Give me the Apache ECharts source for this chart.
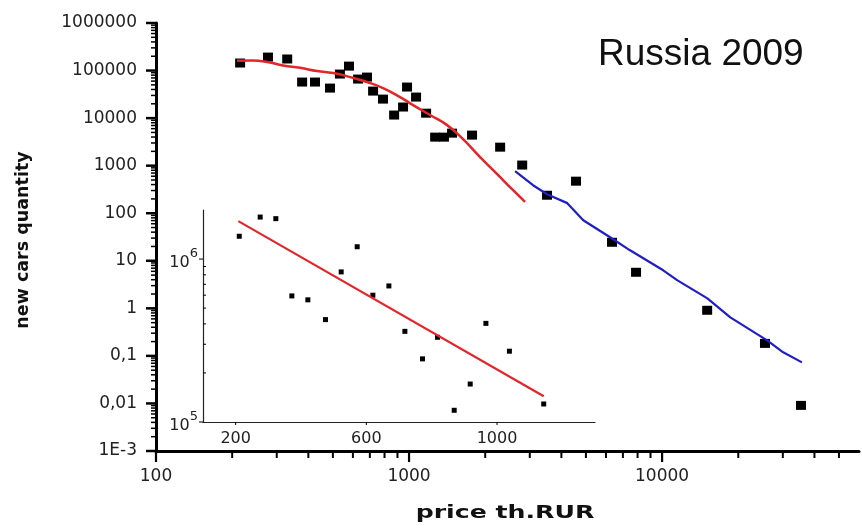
<!DOCTYPE html>
<html><head><meta charset="utf-8">
<script src="https://cdn.jsdelivr.net/npm/echarts@6/dist/echarts.min.js"></script>
<style>html,body{margin:0;padding:0;background:#fff}#c{width:862px;height:528px}</style>
</head><body><div id="c"></div>
<script>
// ---- main scatter (price th.RUR vs new cars quantity) ----
const mainPrice = [215,277,330,378,425,487,533,579,629,682,721,789,873,947,982,1066,1168,1268,1374,1479,1774,2291,2800,3510,4570,6340,7890,15070,25500,35400];
const mainQty   = [144000,192000,175000,57300,57300,42800,84400,124000,66200,72900,37000,25100,11600,17100,45000,27700,12700,3980,3980,4830,4390,2450,1030,239,472,24.5,5.73,0.91,0.183,0.0091];
// ---- red fit curve (main) ----
const redFitPrice = [209,240,275,318,371,433,501,585,682,789,921,1037,1211,1413,1634,1908,2229,2577,2873];
const redFitQty   = [160000,163000,152000,128000,114000,97600,88500,72900,57300,42800,27700,18800,11600,7120,3610,1510,662,305,173];
// ---- blue fit curve (main) ----
const blueFitPrice = [2624,3090,3510,4220,4880,6230,7470,10100,11500,15100,18600,26000,30100,35700];
const blueFitQty   = [766,388,251,163,71.3,31.3,16.6,6.31,3.88,1.62,0.647,0.212,0.119,0.073];
// ---- inset ----
const insetPrice = [211,275,323,372,421,475,523,572,620,669,718,772,818,869,918,966,1038,1143];
const insetQty   = [1380000,1810000,1770000,594000,562000,425000,834000,1190000,600000,684000,360000,244000,331000,118000,171000,403000,272000,129000];
const insetFitPrice = [208,1143];
const insetFitQty   = [1710000,144000];
// ---- ticks / labels ----
const xTickValues = [100,1000,10000];
const xTickLabels = ['100','1000','10000'];
const yTickValues = [0.001,0.01,0.1,1,10,100,1000,10000,100000,1000000];
const yTickLabels = ['1E-3','0,01','0,1','1','10','100','1000','10000','100000','1000000'];
const minorMult = [2,3,4,5,6,7,8,9];
const xMinorDecades = [100,1000];
const xMinorExtra = [20000,30000,40000,50000];
const yMinorDecades = [0.001,0.01,0.1,1,10,100,1000,10000,100000];
const insetXTickValues = [200,600,1000];
const insetXTickLabels = ['200','600','1000'];
const insetYTickValues = [100000,1000000];
const insetYExp = ['5','6'];
const insetYMinor = [200000,300000,400000,500000,600000,700000,800000,900000];

const xMinorTicks = [];
xMinorDecades.forEach(d => minorMult.forEach(m => xMinorTicks.push(d*m)));
xMinorExtra.forEach(v => xMinorTicks.push(v));
const yMinorTicks = [];
yMinorDecades.forEach(d => minorMult.forEach(m => yMinorTicks.push(+(d*m).toPrecision(3))));

const X_MIN = 100, X_MAX = 60000, Y_MIN = 0.001, Y_MAX = 1000000;
const IX_MIN = 100, IY_MIN = 100000;

function pick(vals, labels, v){
  let best = 0, bd = Infinity;
  vals.forEach((t,i)=>{ const d = Math.abs(Math.log10(t) - Math.log10(v)); if (d < bd){bd=d;best=i;} });
  return bd < 0.01 ? labels[best] : '';
}

function tickSeries(xi, yi, data, dx, dy, len, lw){
  return {
    type:'custom', xAxisIndex:xi, yAxisIndex:yi, silent:true, clip:false, z:6,
    data:data,
    renderItem:function(params, api){
      const p = api.coord([api.value(0), api.value(1)]);
      return {type:'line', shape:{x1:p[0], y1:p[1], x2:p[0]+dx*len, y2:p[1]+dy*len},
              style:{stroke:'#000', lineWidth:lw}};
    }
  };
}

const chart = echarts.init(document.getElementById('c'), null, {renderer:'canvas'});
const labelFont = {fontFamily:'DejaVu Sans', fontSize:17, color:'#222'};

chart.setOption({
  animation:false,
  backgroundColor:'#fff',
  grid:[
    {left:156, top:23, width:703, height:428},
    {left:203, top:210, width:392, height:212}
  ],
  xAxis:[
    {type:'log', logBase:10, gridIndex:0, min:X_MIN, max:X_MAX,
     axisLine:{onZero:false, lineStyle:{color:'#000', width:3}},
     axisTick:{show:false}, splitLine:{show:false},
     axisLabel:Object.assign({margin:17, showMaxLabel:false,
       formatter:function(v){return pick(xTickValues, xTickLabels, v);}}, labelFont)},
    {type:'value', gridIndex:1, min:IX_MIN, max:1300,
     axisLine:{onZero:false, lineStyle:{color:'#222', width:1.2}},
     axisTick:{show:false}, splitLine:{show:false},
     axisLabel:Object.assign({margin:9, customValues:insetXTickValues,
       formatter:function(v){return pick(insetXTickValues, insetXTickLabels, v);}}, labelFont, {fontSize:16})}
  ],
  yAxis:[
    {type:'log', logBase:10, gridIndex:0, min:Y_MIN, max:Y_MAX,
     axisLine:{onZero:false, lineStyle:{color:'#000', width:3}},
     axisTick:{show:false}, splitLine:{show:false},
     axisLabel:Object.assign({margin:19,
       formatter:function(v){return pick(yTickValues, yTickLabels, v);}}, labelFont)},
    {type:'log', logBase:10, gridIndex:1, min:IY_MIN, max:2000000,
     axisLine:{onZero:false, lineStyle:{color:'#222', width:1.2}},
     axisTick:{show:false}, splitLine:{show:false},
     axisLabel:{margin:5, showMaxLabel:false,
       formatter:function(v){const e = pick(insetYTickValues, insetYExp, v); return e ? '{b|10}{s|'+e+'}' : '';},
       rich:{
         b:{fontFamily:'DejaVu Sans', fontSize:16, color:'#222', lineHeight:24, verticalAlign:'bottom'},
         s:{fontFamily:'DejaVu Sans', fontSize:13, color:'#222', lineHeight:24, verticalAlign:'top'}
       }}}
  ],
  graphic:[
    {type:'text', x:598, y:55, style:{text:'Russia 2009', font:'37px "Liberation Sans"', fill:'#111', textAlign:'left', textVerticalAlign:'middle'}},
    {type:'text', x:23, y:240, rotation:Math.PI/2, style:{text:'new cars quantity', font:'bold 17.5px "DejaVu Sans"', fill:'#111', textAlign:'center', textVerticalAlign:'middle'}},
    {type:'text', x:505, y:513, scaleX:1.4, style:{text:'price th.RUR', font:'bold 18px "DejaVu Sans"', fill:'#111', textAlign:'center', textVerticalAlign:'middle'}}
  ],
  series:[
    {type:'scatter', xAxisIndex:0, yAxisIndex:0, symbol:'rect', symbolSize:[10,9], itemStyle:{color:'#000', opacity:1}, z:3,
     data:mainPrice.map((p,i)=>[p, mainQty[i]])},
    {type:'line', xAxisIndex:0, yAxisIndex:0, showSymbol:false, smooth:0.5, z:4,
     lineStyle:{color:'#e3262b', width:2.5}, data:redFitPrice.map((p,i)=>[p, redFitQty[i]])},
    {type:'line', xAxisIndex:0, yAxisIndex:0, showSymbol:false, z:4,
     lineStyle:{color:'#1f1fc4', width:2.2}, data:blueFitPrice.map((p,i)=>[p, blueFitQty[i]])},
    {type:'scatter', xAxisIndex:1, yAxisIndex:1, symbol:'rect', symbolSize:5, itemStyle:{color:'#000', opacity:1}, z:3,
     data:insetPrice.map((p,i)=>[p, insetQty[i]])},
    {type:'line', xAxisIndex:1, yAxisIndex:1, showSymbol:false, z:4,
     lineStyle:{color:'#e3262b', width:2.2}, data:insetFitPrice.map((p,i)=>[p, insetFitQty[i]])},
    tickSeries(0,0, xTickValues.map(v=>[v, Y_MIN]), 0, 1, 11, 2.2),
    tickSeries(0,0, xMinorTicks.map(v=>[v, Y_MIN]), 0, 1, 7, 2),
    tickSeries(0,0, yTickValues.map(v=>[X_MIN, v]), -1, 0, 10, 2.5),
    tickSeries(0,0, yMinorTicks.map(v=>[X_MIN, v]), -1, 0, 5, 1.5),
    tickSeries(1,1, insetXTickValues.map(v=>[v, IY_MIN]), 0, 1, 3, 1),
    tickSeries(1,1, insetYTickValues.map(v=>[IX_MIN, v]), -1, 0, 4, 1),
    tickSeries(1,1, insetYMinor.map(v=>[IX_MIN, v]), 1, 0, 3, 1)
  ]
});
</script>
</body></html>
